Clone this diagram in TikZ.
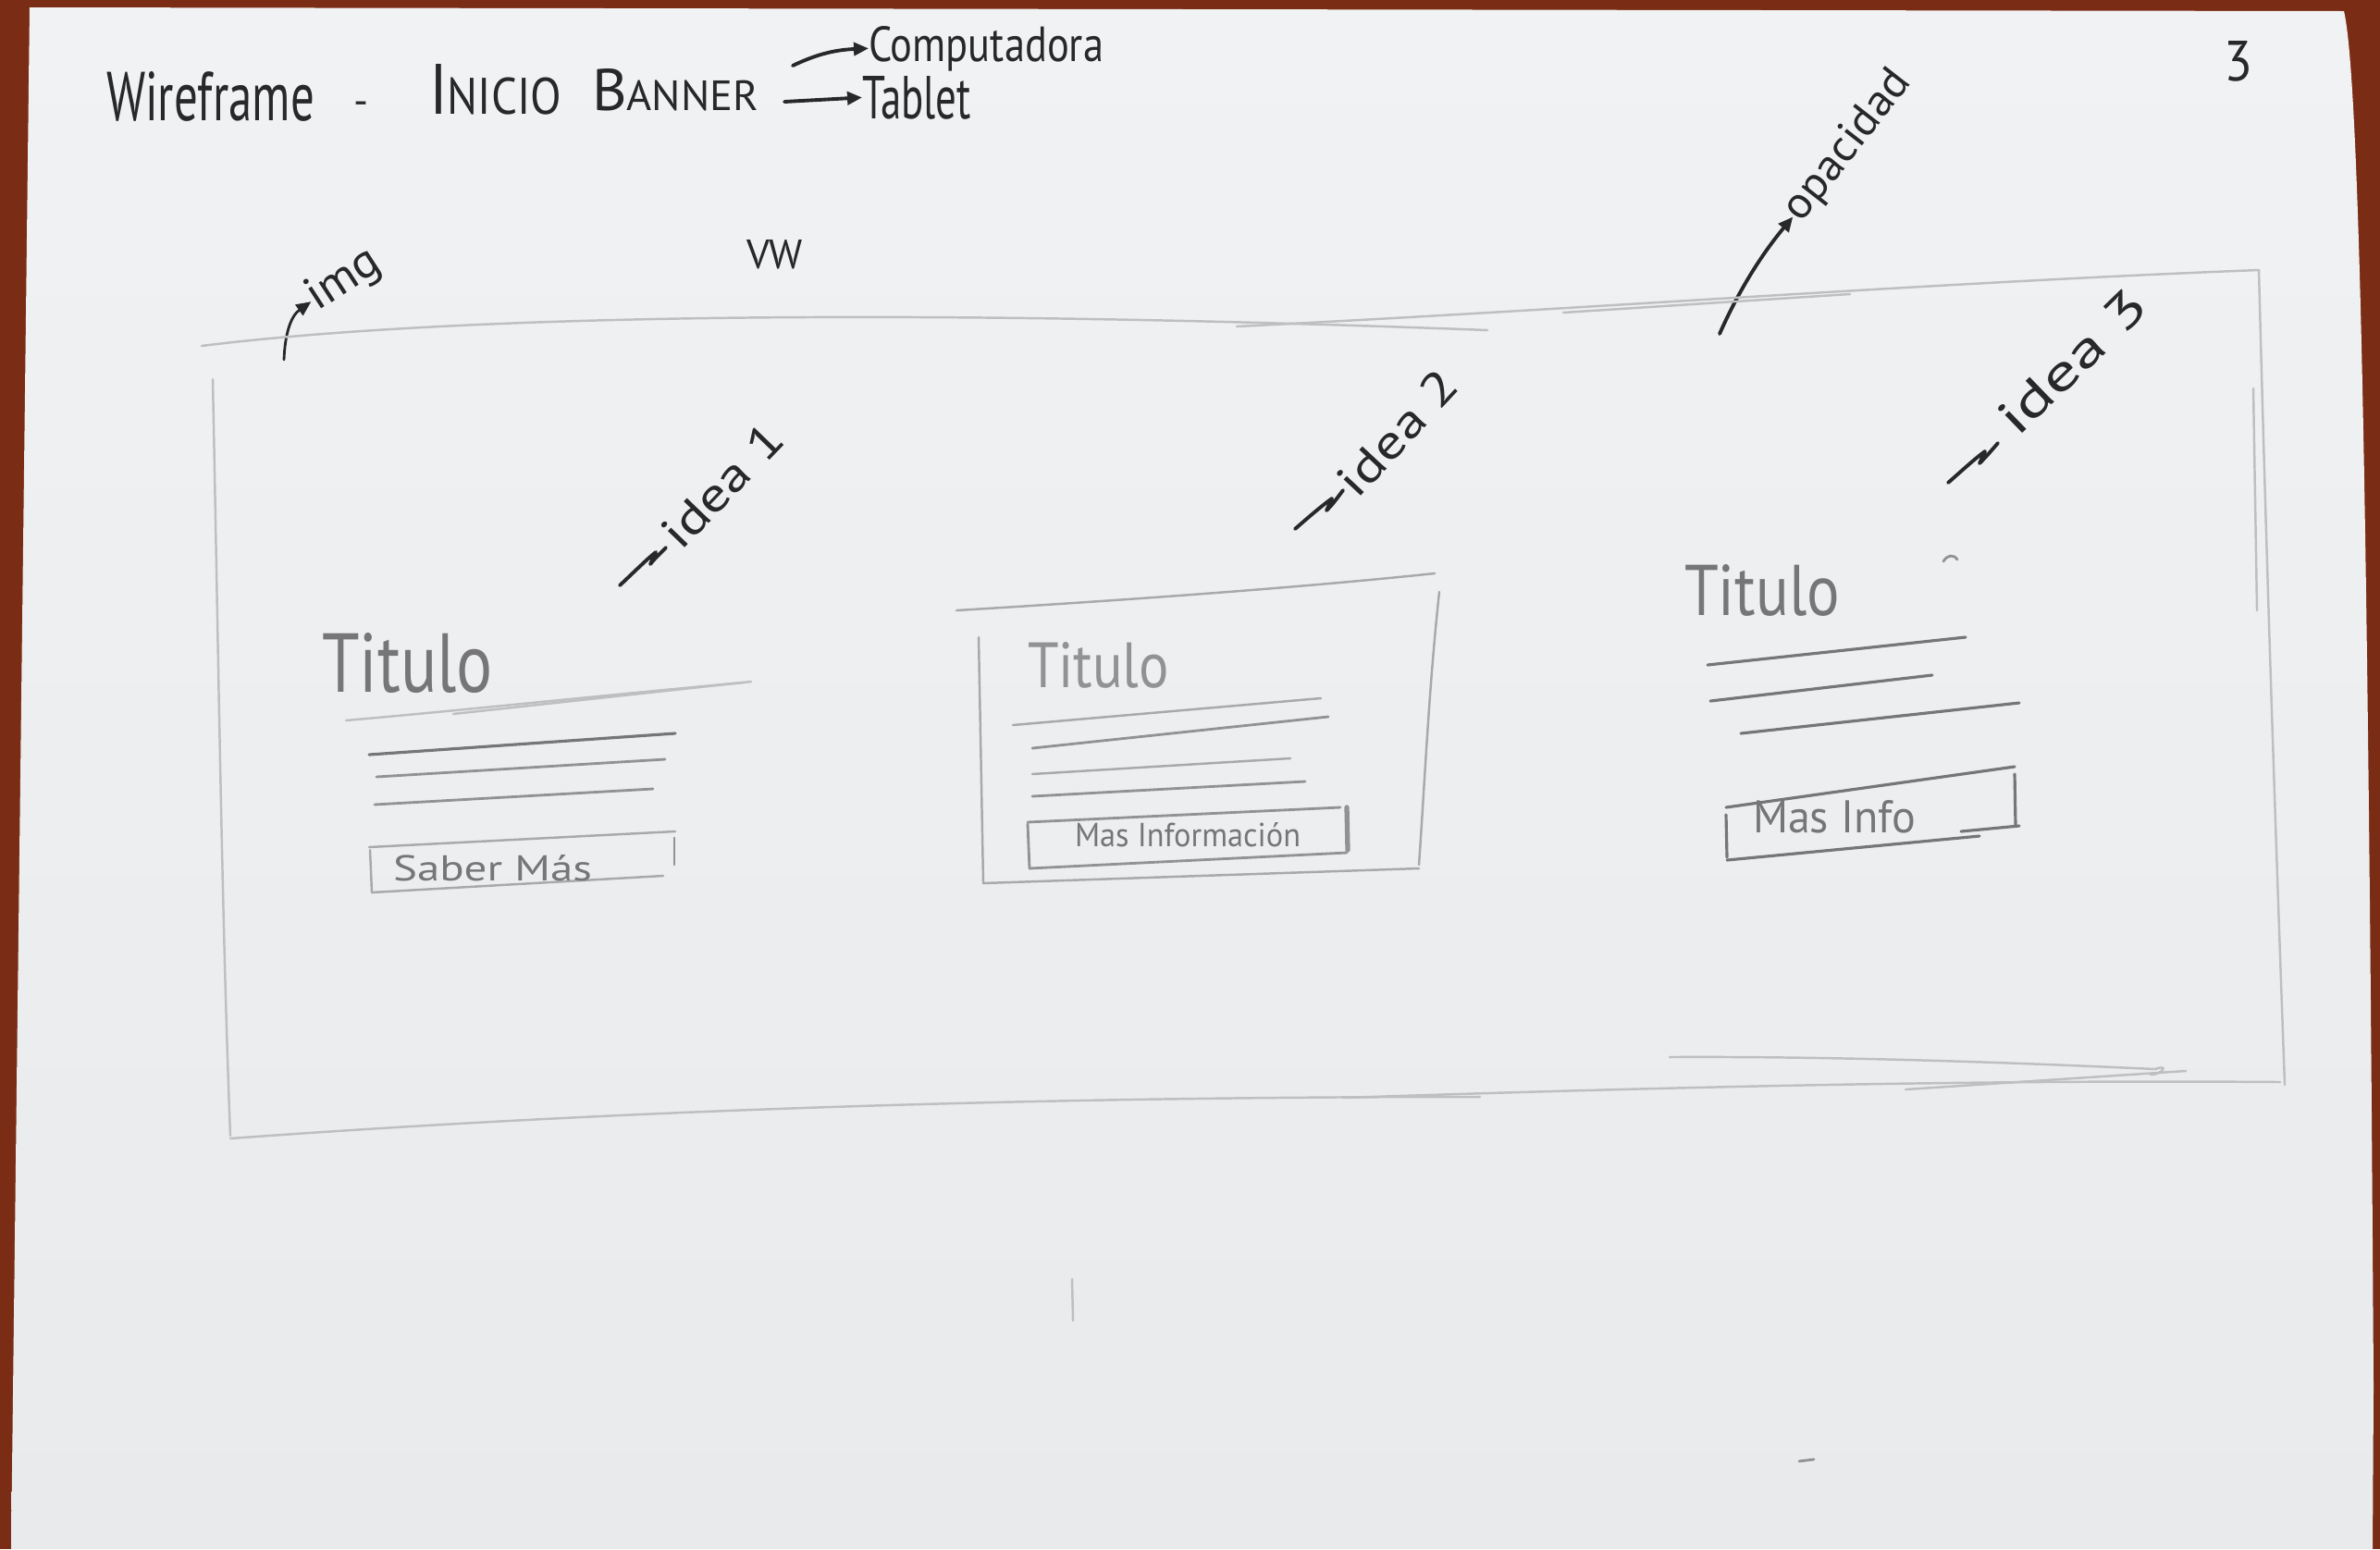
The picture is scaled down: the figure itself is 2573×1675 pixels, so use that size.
\documentclass[tikz,border=0pt]{standalone}
\usepackage{fontspec}
\setmainfont{PT Sans}
\usetikzlibrary{arrows.meta}
\newlength\pxu
\setlength\pxu{0.01cm}
% fit a text to a width and a height (in sheet units)
\newcommand\fitwh[3]{\resizebox{#1\pxu}{#2\pxu}{#3}}
\newcommand\fitw[2]{\resizebox{#1\pxu}{!}{#2}}
\definecolor{desk}{RGB}{122,44,20}
\definecolor{paper}{RGB}{241,242,243}
\definecolor{paperlow}{RGB}{232,234,235}
\definecolor{ink}{RGB}{40,40,42}
\definecolor{lead}{RGB}{118,118,120}
\definecolor{leadmid}{RGB}{145,146,148}
\definecolor{leadlight}{RGB}{168,169,171}
\definecolor{leadfaint}{RGB}{190,191,193}
\begin{document}
\begin{tikzpicture}[x=0.01cm,y=-0.01cm,
  pen/.style={draw=ink,line width=1.1pt,line cap=round,line join=round},
  sketch/.style={draw=lead,line width=0.9pt,line cap=round},
  soft/.style={draw=leadmid,line width=0.8pt,line cap=round},
  light/.style={draw=leadlight,line width=0.7pt,line cap=round},
  faint/.style={draw=leadfaint,line width=0.7pt,line cap=round},
  txt/.style={inner sep=0pt,outer sep=0pt,anchor=base west},
  note/.style={inner sep=0pt,outer sep=0pt,text=ink},
  tip/.style={-{Triangle[length=1.6mm,width=1.4mm]}}]

% desk and sheet
\fill[desk] (0,0) rectangle (2573,1675);
\useasboundingbox (0,0) rectangle (2573,1675);
\shade[top color=paper,bottom color=paperlow]
  (32,8) -- (2534,12) .. controls (2550,80) and (2560,500) .. (2566,1500)
  -- (2565,1675) -- (12,1675) -- cycle;

% heading
\node[txt,text=ink] (wf) at (115,130) {\fitwh{225}{53}{Wireframe}};
\node[txt,text=ink] (dash) at (382,124) {\fitw{16}{-}};
\node[txt,text=ink] (inicio) at (464,123) {\fitwh{143}{54}{I\scalebox{0.72}{NICIO}}};
\node[txt,text=ink] (banner) at (640,119) {\fitwh{180}{45}{B\scalebox{0.72}{ANNER}}};
\node[txt,text=ink] (comp) at (939,66) {\fitwh{254}{38}{Computadora}};
\node[txt,text=ink] (tablet) at (932,128) {\fitwh{118}{46}{Tablet}};
\node[txt,text=ink] (page) at (2404,87) {\fitwh{31}{43}{3}};
\coordinate (cfoot) at (857,71);
\coordinate (tfoot) at (848,110);
\draw[pen,tip] (cfoot) .. controls (880,60) and (900,54) .. (comp.west);
\draw[pen,tip] (tfoot) -- (tablet.west);

% annotations
\node[note,rotate=33] (img) at (372,303) {\fitwh{85}{36}{img}};
\coordinate (imgfoot) at (307,389);
\draw[pen,line width=0.8pt,tip] (imgfoot) .. controls (308,362) and (314,342) .. (img.west);
\node[txt,text=ink] (vw) at (807,290) {\fitwh{61}{31}{VW}};
\node[note,rotate=52] (opac) at (1998,158) {\fitwh{194}{34}{opacidad}};
\coordinate (opfoot) at (1859,361);
\draw[pen,tip] (opfoot) .. controls (1878,318) and (1902,278) .. (opac.west);

\node[note,rotate=46] (idea1) at (781,525) {\fitwh{165}{36}{idea 1}};
\draw[pen] (670,633) .. controls (686,618) and (700,604) .. (709,597) -- (703,610) .. controls (708,604) .. (720,592);
\node[note,rotate=47] (idea2) at (1511,468) {\fitwh{165}{36}{idea 2}};
\draw[pen] (1400,572) .. controls (1416,558) and (1430,546) .. (1440,539) -- (1434,552) .. controls (1440,546) .. (1452,530);
\node[note,rotate=44] (idea3) at (2240,391) {\fitwh{200}{38}{idea 3}};
\draw[pen] (2106,522) .. controls (2122,508) and (2136,495) .. (2146,488) -- (2140,501) .. controls (2146,495) .. (2160,479);

% banner frame
\draw[faint] (218,374) .. controls (450,345) and (900,330) .. (1608,357);
\draw[faint] (1337,353) .. controls (1700,335) and (2100,305) .. (2442,292);
\draw[faint] (1690,338) -- (2000,318);
\draw[faint] (2442,292) .. controls (2450,600) and (2460,900) .. (2470,1173);
\draw[faint] (2436,420) -- (2440,660);
\draw[faint] (230,410) .. controls (236,700) and (240,1000) .. (249,1228);
\draw[faint] (249,1231) .. controls (700,1198) and (1150,1186) .. (1600,1186);
\draw[faint] (1452,1187) .. controls (1900,1172) and (2200,1168) .. (2465,1170);
\draw[faint] (1805,1143) .. controls (2000,1142) and (2200,1150) .. (2330,1156)
  .. controls (2345,1150) and (2338,1162) .. (2325,1162);
\draw[faint] (2060,1178) -- (2363,1158);

% first card
\node[txt,text=lead] (t1) at (348,748) {\fitwh{185}{64}{Titulo}};
\draw[faint] (374,779) .. controls (500,768) and (650,752) .. (804,738);
\draw[faint] (490,772) -- (812,737);
\draw[sketch] (399,816) -- (730,793);
\draw[soft] (407,840) -- (719,821);
\draw[soft] (405,870) -- (706,853);
\draw[light] (399,916) -- (730,899);
\draw[light] (400,919) -- (402,965);
\draw[light] (402,965) -- (717,947);
\draw[soft] (729,906) -- (729,935);
\node[txt,text=lead] (b1) at (425,952) {\fitwh{215}{28}{Saber Más}};

% second card
\draw[light] (1034,660) .. controls (1200,650) and (1400,636) .. (1551,620);
\draw[light] (1058,689) -- (1063,955);
\draw[light] (1556,640) .. controls (1545,740) and (1540,850) .. (1534,935);
\draw[light] (1063,955) -- (1534,939);
\node[txt,text=leadmid] (t2) at (1111,743) {\fitwh{153}{49}{Titulo}};
\draw[light] (1095,784) -- (1428,755);
\draw[soft] (1116,809) -- (1436,775);
\draw[light] (1116,837) -- (1395,820);
\draw[soft] (1116,861) -- (1411,845);
\draw[soft] (1111,889) -- (1449,873);
\draw[soft] (1111,891) -- (1113,939);
\draw[soft] (1113,939) -- (1456,922);
\draw[soft,line width=1.5pt] (1456,873) -- (1457,919);
\node[txt,text=lead] (b2) at (1162,915) {\fitwh{244}{26}{Mas Información}};

% third card
\node[txt,text=lead] (t3) at (1821,665) {\fitwh{168}{55}{Titulo}};
\draw[sketch] (1846,719) -- (2125,689);
\draw[sketch] (1849,758) -- (2089,730);
\draw[sketch] (1882,793) -- (2183,760);
\draw[sketch] (1866,873) -- (2178,829);
\draw[sketch] (1866,881) -- (1867,927);
\draw[sketch] (1867,930) -- (2140,904);
\draw[sketch] (2120,899) -- (2183,893);
\draw[sketch] (2178,837) -- (2179,893);
\node[txt,text=lead] (b3) at (1895,900) {\fitwh{176}{35}{Mas Info}};
\draw[soft] (2101,607) .. controls (2105,600) and (2112,599) .. (2116,605);

% stray pencil marks
\draw[soft] (1945,1580) -- (1961,1578);
\draw[faint] (1159,1383) -- (1160,1428);
\end{tikzpicture}
\end{document}
